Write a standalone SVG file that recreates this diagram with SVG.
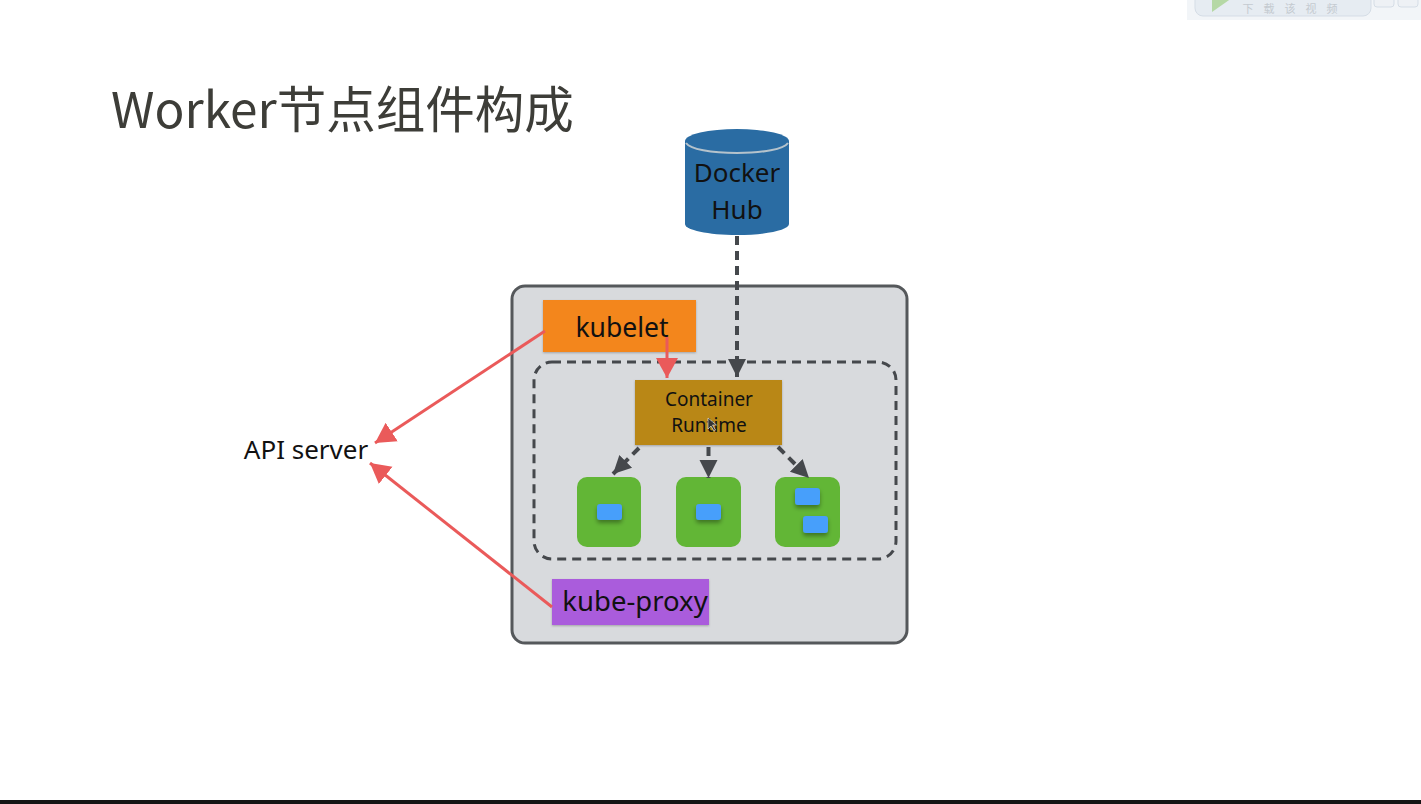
<svg xmlns="http://www.w3.org/2000/svg" width="1421" height="804" viewBox="0 0 1421 804">
<style>
text{font-family:"Noto Sans","Open Sans","Noto Sans CJK SC",sans-serif;fill:#111;text-anchor:middle}
.title{font-family:"Noto Sans CJK SC","Noto Sans",sans-serif;font-size:49.500px;fill:#3d3d38;text-anchor:start}
.dash{fill:none;stroke:#45484c;stroke-width:4;stroke-dasharray:9 6}
.red{fill:none;stroke:#ea5a5a;stroke-width:3}
.green{fill:#62b636}
.blue{fill:#469ffb;filter:url(#sh)}
.box{filter:url(#sb)}
</style>
<defs>
<filter id="sh" x="-30%" y="-30%" width="160%" height="190%"><feDropShadow dx="0" dy="3" stdDeviation="2" flood-color="#000" flood-opacity=".35"/></filter>
<filter id="sb" x="-5%" y="-5%" width="110%" height="115%"><feDropShadow dx="0" dy="1" stdDeviation="1" flood-color="#000" flood-opacity=".25"/></filter>
<marker id="ag" markerUnits="userSpaceOnUse" markerWidth="22" markerHeight="22" refX="18" refY="11" orient="auto"><path d="M0 2L18 11L0 20Z" fill="#45484c"/></marker>
<marker id="ar" markerUnits="userSpaceOnUse" markerWidth="24" markerHeight="26" refX="20" refY="13" orient="auto"><path d="M0 2L20 13L0 24Z" fill="#ea5a5a"/></marker>
</defs>
<rect width="1421" height="804" fill="#fff"/>
<g id="download-bar">
<rect x="1187" y="-2" width="234" height="22" fill="#f2f5f8"/>
<rect x="1195" y="-10" width="176" height="26" rx="8" fill="#e6ecf2" stroke="#d5dde6"/>
<path d="M1212 -2H1232L1212 12Z" fill="#b5d8a5"/>
<text x="1295" y="13" style="font-family:'Noto Sans CJK SC',sans-serif;font-size:11px;fill:#c4cad0;letter-spacing:10px">下载该视频</text>
<rect x="1374" y="-6" width="20" height="13" rx="3" fill="#eef1f5" stroke="#d5dde6"/>
<rect x="1398" y="-6" width="20" height="13" rx="3" fill="#eef1f5" stroke="#d5dde6"/>
</g>
<text class="title" x="111" y="128">Worker节点组件构成</text>
<g id="worker-node"><rect x="512" y="286" width="395" height="357" rx="13" fill="#d8dadd" stroke="#55585b" stroke-width="3"/></g>
<g id="runtime-area"><rect x="534" y="362" width="362" height="197" rx="18" fill="none" stroke="#45484c" stroke-width="3" stroke-dasharray="9 6"/></g>
<g id="docker-hub">
<path d="M685 141V224C685 230 708 235 737 235S789 230 789 224V141Z" fill="#2a6ca3"/>
<ellipse cx="737" cy="141" rx="52" ry="12" fill="#2a6ca3"/>
<path d="M686 143C690 149 711 153 737 153S784 149 788 143" fill="none" stroke="#b5c3cc" stroke-width="2"/>
<text x="737" y="182" font-size="26">Docker</text>
<text x="737" y="219" font-size="26">Hub</text>
</g>
<g id="kubelet"><rect class="box" x="543" y="300" width="153" height="52" fill="#f3861a"/><text x="622" y="337" font-size="26.500">kubelet</text></g>
<g id="container-runtime"><rect class="box" x="635" y="380" width="147" height="65" fill="#b98714"/><text x="709" y="406" font-size="19">Container</text><text x="709" y="432" font-size="19">Runtime</text><path d="M708 418l0 11 3-3 3 5 1.500-1-3-5 4 0Z" fill="#333" stroke="#eee" stroke-width=".6"/></g>
<g id="pod-1"><rect x="577" y="477" width="64" height="70" rx="10" class="green"/><rect x="597" y="504" width="25" height="16" rx="3" class="blue"/></g>
<g id="pod-2"><rect x="676" y="477" width="65" height="70" rx="10" class="green"/><rect x="696" y="504" width="25" height="16" rx="3" class="blue"/></g>
<g id="pod-3"><rect x="775" y="477" width="65" height="70" rx="10" class="green"/><rect x="795" y="488" width="25" height="17" rx="3" class="blue"/><rect x="803" y="516" width="25" height="17" rx="3" class="blue"/></g>
<g id="kube-proxy"><rect class="box" x="552" y="579" width="157" height="46" fill="#aa5cdc"/><text x="635" y="611" font-size="27.500">kube-proxy</text></g>
<g id="api-server"><text x="306" y="459" font-size="26">API server</text></g>
<g id="connectors">
<path class="dash" d="M737 236V377" marker-end="url(#ag)"/>
<path class="dash" d="M639 448L613 474" marker-end="url(#ag)"/>
<path class="dash" d="M708.500 447V478" marker-end="url(#ag)"/>
<path class="dash" d="M778 447L809 478" marker-end="url(#ag)"/>
<path class="red" d="M667 337V378" marker-end="url(#ar)"/>
<path class="red" d="M545 331L375 443" marker-end="url(#ar)"/>
<path class="red" d="M552 607L370 463" marker-end="url(#ar)"/>
</g>
<rect id="bottom-bar" x="0" y="800" width="1421" height="4" fill="#151515"/>
</svg>
